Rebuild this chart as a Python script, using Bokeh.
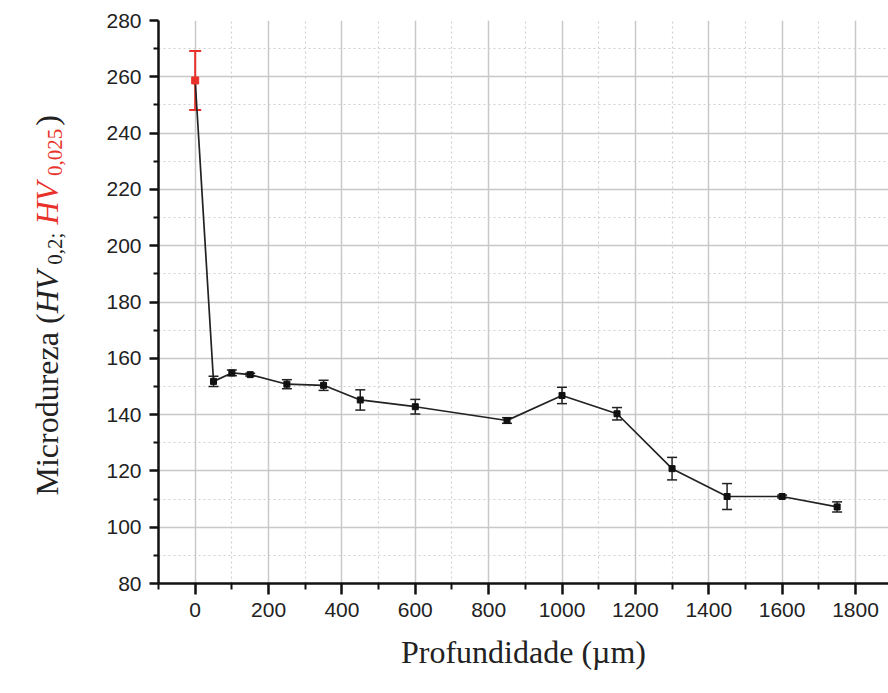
import math
from bokeh.plotting import figure
from bokeh.layouts import row
from bokeh.models import ColumnDataSource, Whisker, TeeHead, FixedTicker, Range1d
from bokeh.core.properties import value
from bokeh.embed import file_html
from bokeh.resources import INLINE

# ---- data ----
depth_um = [0, 50, 100, 150, 250, 350, 450, 600, 850, 1000, 1150, 1300, 1450, 1600, 1750]
hardness = [258.7, 151.8, 154.8, 154.2, 150.8, 150.4, 145.2, 142.8, 137.9, 146.8, 140.3, 120.8, 110.9, 110.9, 107.2]
hardness_err = [10.5, 1.8, 1.0, 0.5, 1.6, 1.8, 3.6, 2.6, 1.0, 2.9, 2.2, 4.0, 4.6, 0.5, 1.8]

x_ticks = [0, 200, 400, 600, 800, 1000, 1200, 1400, 1600, 1800]
x_minor = [-100, 100, 300, 500, 700, 900, 1100, 1300, 1500, 1700, 1900]
y_ticks = [80, 100, 120, 140, 160, 180, 200, 220, 240, 260, 280]
y_minor = [90, 110, 130, 150, 170, 190, 210, 230, 250, 270]

x_label = "Profundidade (µm)"
y_label_parts = ["Microdureza (", "HV", "0,2;", "HV", "0,025", ")"]

W, H = 888, 693
LW = 72            # width of the strip holding the rotated y title
TOP, BOTTOM = 20, 110

# split: first point is HV0.025 (red), rest HV0.2 (black)
red = ColumnDataSource(dict(
    x=depth_um[:1], y=hardness[:1],
    lo=[h - e for h, e in zip(hardness[:1], hardness_err[:1])],
    hi=[h + e for h, e in zip(hardness[:1], hardness_err[:1])]))
black = ColumnDataSource(dict(
    x=depth_um[1:], y=hardness[1:],
    lo=[h - e for h, e in zip(hardness[1:], hardness_err[1:])],
    hi=[h + e for h, e in zip(hardness[1:], hardness_err[1:])]))
allsrc = ColumnDataSource(dict(x=depth_um, y=hardness))

p = figure(width=W - LW, height=H, output_backend="svg", toolbar_location=None,
           x_range=Range1d(-100, 1890), y_range=Range1d(80, 280),
           min_border_left=158 - LW, min_border_right=0, min_border_top=TOP,
           min_border_bottom=BOTTOM)
p.outline_line_color = None
p.background_fill_color = "white"
p.border_fill_color = "white"

# grids
p.xgrid.ticker = FixedTicker(ticks=x_ticks, minor_ticks=x_minor)
p.ygrid.ticker = FixedTicker(ticks=y_ticks, minor_ticks=y_minor)
for g in (p.xgrid, p.ygrid):
    g.grid_line_color = "#c8c8c8"
    g.grid_line_width = 1.5
    g.minor_grid_line_color = "#d0d0d0"
    g.minor_grid_line_width = 1.2
    g.minor_grid_line_dash = "2 3"

# axes
p.xaxis.ticker = FixedTicker(ticks=x_ticks, minor_ticks=x_minor)
p.yaxis.ticker = FixedTicker(ticks=y_ticks, minor_ticks=y_minor)
for ax in (p.xaxis, p.yaxis):
    ax.axis_line_width = 2.5
    ax.axis_line_color = "#111111"
    ax.major_tick_line_width = 2.5
    ax.major_tick_line_color = "#111111"
    ax.minor_tick_line_width = 2
    ax.minor_tick_line_color = "#111111"
    ax.major_tick_in = 0
    ax.minor_tick_in = 0
    ax.major_label_text_font = "Liberation Sans"
    ax.major_label_text_font_size = "21px"
    ax.major_label_text_color = "#222222"
p.xaxis.major_tick_out = 11
p.xaxis.minor_tick_out = 6
p.yaxis.major_tick_out = 9
p.yaxis.minor_tick_out = 5
p.xaxis.major_label_standoff = 8
p.yaxis.major_label_standoff = 8

p.xaxis.axis_label = x_label
p.xaxis.axis_label_text_font = "Liberation Serif"
p.xaxis.axis_label_text_font_size = "32px"
p.xaxis.axis_label_text_font_style = "normal"
p.xaxis.axis_label_text_color = "#222222"
p.xaxis.axis_label_standoff = 14

# data
p.line("x", "y", source=allsrc, line_color="#222222", line_width=1.7)
p.add_layout(Whisker(base="x", lower="lo", upper="hi", source=black,
                     line_color="#222222", line_width=1.5,
                     lower_head=TeeHead(size=10, line_color="#222222", line_width=1.5),
                     upper_head=TeeHead(size=10, line_color="#222222", line_width=1.5)))
p.scatter("x", "y", source=black, marker="square", size=6,
          fill_color="#111111", line_color="#111111")
p.add_layout(Whisker(base="x", lower="lo", upper="hi", source=red,
                     line_color="#e8312a", line_width=2,
                     lower_head=TeeHead(size=12, line_color="#e8312a", line_width=2),
                     upper_head=TeeHead(size=12, line_color="#e8312a", line_width=2)))
p.scatter("x", "y", source=red, marker="square", size=7,
          fill_color="#e8312a", line_color="#e8312a")

# ---- strip with the rotated, two-coloured y-axis title ----
# its frame is aligned with the main frame, so the ranges are pixel units
t = figure(width=LW, height=H, output_backend="svg", toolbar_location=None,
           x_range=Range1d(0, LW), y_range=Range1d(BOTTOM, H - TOP),
           x_axis_location=None, y_axis_location=None,
           min_border_left=0, min_border_right=0, min_border_top=TOP,
           min_border_bottom=BOTTOM)
t.grid.visible = False
t.outline_line_color = None
t.border_fill_color = "white"
t.background_fill_color = "white"

F, S = 32, 21
specs = [  # (text, size, style, colour, em-width, subscript, gap before)
    (y_label_parts[0], F, "normal", "#222222", 5.692, False, 0),
    (y_label_parts[1], F, "italic", "#222222", 1.333, False, 0),
    (y_label_parts[2], S, "normal", "#222222", 1.528, True, 6),
    (y_label_parts[3], F, "italic", "#e8312a", 1.333, False, 8),
    (y_label_parts[4], S, "normal", "#e8312a", 2.25, True, 6),
    (y_label_parts[5], F, "normal", "#222222", 0.333, False, 3),
]
base_x = 46
pos = H - 495.0
for text, size, style, col, em, sub, gap in specs:
    pos += gap
    t.text(x=[base_x + (8 if sub else 0)], y=[pos], text=[text], angle=math.pi / 2,
           text_align="left", text_baseline="alphabetic",
           text_font=value("Liberation Serif"), text_font_size=f"{size}px",
           text_font_style=style, text_color=col)
    pos += em * size

layout = row(t, p, spacing=0)
open("out.html", "w").write(file_html(layout, INLINE))
